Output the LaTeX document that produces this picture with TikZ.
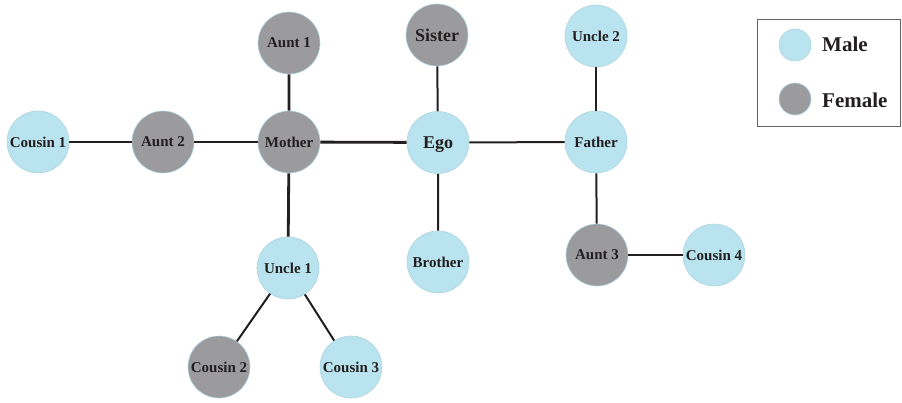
\documentclass[tikz,border=0pt]{standalone}
\usepackage{fontspec}
\setmainfont{Liberation Serif}
\usepackage{tikz}

\definecolor{malefill}{HTML}{B9E3EE}
\definecolor{femalefill}{HTML}{9B9B9D}
\definecolor{ink}{HTML}{231F20}

\tikzset{
  person/.style={shape=circle, minimum size=62pt, inner sep=0pt, draw=malefill!85!black!40!malefill, line width=0.6pt, text=ink, font=\fontsize{15}{15}\selectfont\bfseries},
  he/.style={person, fill=malefill},
  she/.style={person, fill=femalefill},
  kin/.style={draw=ink, line width=2pt},
  closekin/.style={draw=ink, line width=2.8pt}
}

\begin{document}
\begin{tikzpicture}[x=1pt, y=1pt]
    \useasboundingbox (0, 0) rectangle (902, 402);

        \node[he] (C1) at (38, 260) {Cousin 1};
        \node[she] (A2) at (163, 260) {Aunt 2};
        \node[she] (Mo) at (289, 260) {Mother};
        \node[she] (A1) at (289, 359) {Aunt 1};
        \node[he, text depth=0pt, font=\fontsize{18}{18}\selectfont\bfseries] (Ego) at (438, 259.5) {Ego};
        \node[she, font=\fontsize{18}{18}\selectfont\bfseries] (Si) at (437, 367) {Sister};
        \node[he] (Br) at (438, 140) {Brother};
        \node[he] (Fa) at (596, 260) {Father};
        \node[he] (U2) at (596, 366) {Uncle 2};
        \node[she] (A3) at (597, 147) {Aunt 3};
        \node[he] (C4) at (714, 147) {Cousin 4};
        \node[he] (U1) at (288, 134) {Uncle 1};
        \node[she] (C2) at (219, 35) {Cousin 2};
        \node[he] (C3) at (351, 35) {Cousin 3};

        \draw[kin] (C1) -- (A2) -- (Mo);
        \draw[closekin] (A1) -- (Mo) -- (U1);
        \draw[closekin] (Mo) -- (Ego);
        \draw[kin] (Ego) -- (Fa);
        \draw[kin] (Si) -- (Ego) -- (Br);
        \draw[closekin] (U2) -- (Fa);
        \draw[kin] (Fa) -- (A3);
        \draw[closekin] (A3) -- (C4);
        \draw[kin] (C2) -- (U1) -- (C3);

        % legend
        \draw[draw=ink!70, line width=0.8pt] (757, 383) rectangle (900.5, 276);
        \node[he, minimum size=32pt] (keyM) at (795, 357) {};
        \node[she, minimum size=32pt] (keyF) at (795, 303) {};
        \node[anchor=west, inner sep=0pt, text=ink, font=\fontsize{21}{21}\selectfont\bfseries] at (822, 358) {Male};
        \node[anchor=west, inner sep=0pt, text=ink, font=\fontsize{21}{21}\selectfont\bfseries] at (822, 302) {Female};

    \end{tikzpicture}
\end{document}
